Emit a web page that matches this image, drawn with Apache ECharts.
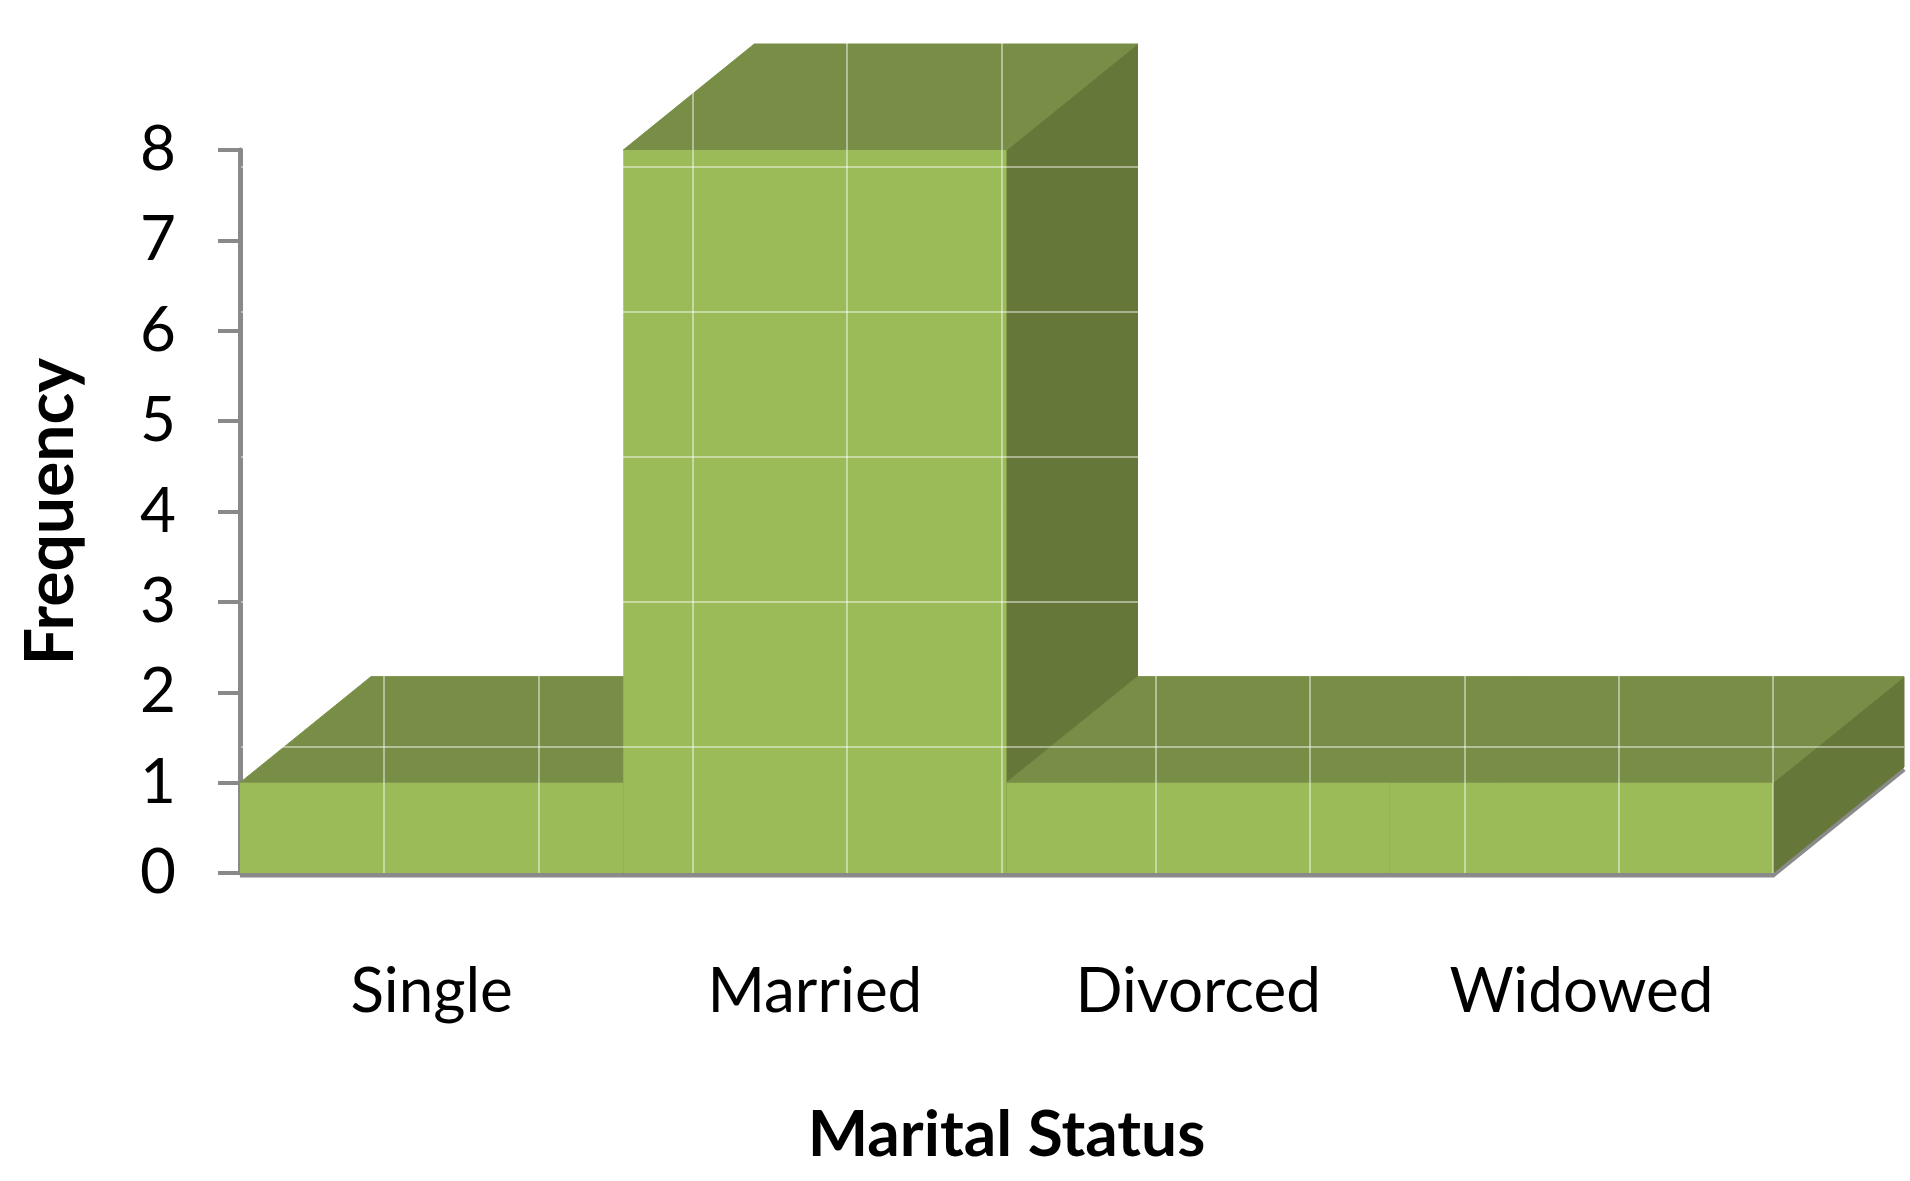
<!DOCTYPE html>
<html>
<head>
<meta charset="utf-8">
<title>Marital Status</title>
<script src="https://cdn.jsdelivr.net/npm/echarts@6/dist/echarts.min.js"></script>
<style>
  html, body { margin: 0; padding: 0; background: #fff; }
  #chart { width: 1910px; height: 1181px; }
</style>
</head>
<body>
<div id="chart"></div>
<script>
// data
const categories = ['Single', 'Married', 'Divorced', 'Widowed'];
const frequency = [1, 8, 1, 1];
const yMin = 0;
const yMax = 8;

// 3d look
const FRONT = '#9bbb59';
const TOP = '#788e46';
const SIDE = '#657839';
const DX = 131;
const DY = 106;
const FONT = 'Lato, "Open Sans", sans-serif';

let myChart = echarts.init(document.getElementById('chart'));

function renderBox (params, api) {
  let base = api.coord([api.value(0), 0]);
  let head = api.coord([api.value(0), api.value(1)]);
  let w = api.size([1, 0])[0];
  let x0 = base[0] - w / 2;
  let x1 = base[0] + w / 2;
  let y0 = base[1];
  let y1 = head[1];
  return {
    type: 'group',
    children: [
      {
        type: 'polygon',
        shape: { points: [[x1, y1], [x1 + DX, y1 - DY], [x1 + DX, y0 - DY], [x1, y0]] },
        style: { fill: SIDE, stroke: SIDE, lineWidth: 1 }
      },
      {
        type: 'polygon',
        shape: { points: [[x0, y1], [x1, y1], [x1 + DX, y1 - DY], [x0 + DX, y1 - DY]] },
        style: { fill: TOP, stroke: TOP, lineWidth: 1 }
      },
      {
        type: 'rect',
        shape: { x: x0, y: y1, width: w, height: y0 - y1 },
        style: { fill: FRONT }
      }
    ]
  };
}

// floor edge under the bars
function renderFloor (params, api) {
  let cs = params.coordSys;
  let yb = cs.y + cs.height + 2;
  return {
    type: 'polyline',
    shape: { points: [[cs.x, yb], [cs.x + cs.width, yb], [cs.x + cs.width + DX, yb - DY]] },
    style: { stroke: '#8a8a8a', lineWidth: 5, fill: null }
  };
}

const wallLine = { show: true, lineStyle: { color: 'rgba(255,255,255,0.6)', width: 1.5 } };

myChart.setOption({
  animation: false,
  backgroundColor: '#fff',
  textStyle: { fontFamily: FONT },
  grid: [
    { left: 240, right: 137, top: 150, bottom: 308 },
    { left: 384, right: 137, top: 0, bottom: 308 },
    { left: 241, right: 6, top: 22, bottom: 289 }
  ],
  xAxis: [
    {
      type: 'category',
      gridIndex: 0,
      data: categories,
      boundaryGap: true,
      axisLine: { show: false },
      axisTick: { show: false },
      axisLabel: { color: '#000', fontSize: 62, fontFamily: FONT, margin: 88 },
      name: 'Marital Status',
      nameLocation: 'middle',
      nameGap: 230,
      nameTextStyle: { color: '#000', fontSize: 64, fontWeight: 'bold', fontFamily: FONT }
    },
    {
      type: 'value',
      gridIndex: 1,
      min: 0,
      max: 9,
      interval: 1,
      z: 5,
      axisLine: { show: false },
      axisTick: { show: false },
      axisLabel: { show: false },
      splitLine: wallLine
    },
    {
      type: 'value',
      gridIndex: 2,
      show: false
    }
  ],
  yAxis: [
    {
      type: 'value',
      gridIndex: 0,
      min: yMin,
      max: yMax,
      interval: 1,
      axisLine: { show: true, lineStyle: { color: '#898989', width: 5 } },
      axisTick: { show: true, length: 22, lineStyle: { color: '#898989', width: 4 } },
      axisLabel: { color: '#000', fontSize: 62, fontFamily: FONT, margin: 64 },
      splitLine: { show: false },
      name: 'Frequency',
      nameLocation: 'middle',
      nameGap: 155,
      nameTextStyle: { color: '#000', fontSize: 66, fontWeight: 'bold', fontFamily: FONT }
    },
    {
      type: 'value',
      gridIndex: 1,
      show: false
    },
    {
      type: 'value',
      gridIndex: 2,
      min: 0,
      max: 6,
      interval: 1,
      z: 5,
      axisLine: { show: false },
      axisTick: { show: false },
      axisLabel: { show: false },
      splitLine: wallLine
    }
  ],
  series: [
    {
      type: 'custom',
      name: 'floor',
      xAxisIndex: 0,
      yAxisIndex: 0,
      z: 1,
      silent: true,
      data: [0],
      renderItem: renderFloor
    },
    {
      type: 'custom',
      name: 'Frequency',
      xAxisIndex: 0,
      yAxisIndex: 0,
      z: 2,
      data: categories.map((c, i) => [i, frequency[i]]),
      renderItem: renderBox
    }
  ]
});
</script>
</body>
</html>
